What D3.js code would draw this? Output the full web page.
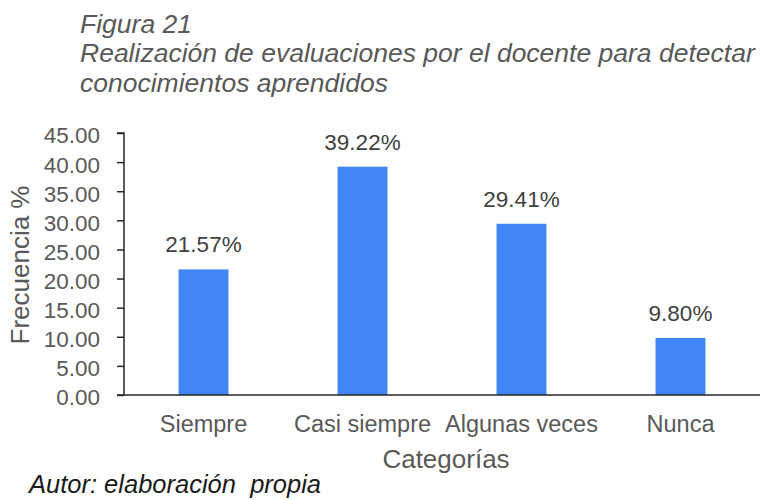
<!DOCTYPE html>
<html>
<head>
<meta charset="utf-8">
<script src="https://cdn.jsdelivr.net/npm/d3@7"></script>
<style>
  html, body { margin: 0; padding: 0; background: #ffffff; }
  svg { display: block; }
  text { font-family: "Liberation Sans", Arial, sans-serif; white-space: pre; }
</style>
</head>
<body>
<svg id="chart" width="765" height="500"></svg>
<script>
const categories = ["Siempre", "Casi siempre", "Algunas veces", "Nunca"];
const values = [21.57, 39.22, 29.41, 9.80];
const yTicks = [0, 5, 10, 15, 20, 25, 30, 35, 40, 45];
const titleLines = ["Figura 21", "Realización de evaluaciones por el docente para detectar", "conocimientos aprendidos"];
const xTitle = "Categorías";
const yTitle = "Frecuencia %";
const footer = "Autor: elaboración  propia";

const svg = d3.select("#chart");
const plot = { left: 124, right: 760, top: 133, bottom: 395 };

const x = d3.scaleBand().domain(categories).range([plot.left, plot.right])
  .paddingInner(0.686).paddingOuter(0.343);
const y = d3.scaleLinear().domain([0, 45]).range([plot.bottom, plot.top]);

const textGray = "#595959";

// Title
svg.append("g").selectAll("text").data(titleLines).join("text")
  .attr("x", 80)
  .attr("y", (d, i) => 33 + i * 29.3)
  .attr("font-size", 26.5)
  .attr("font-style", "italic")
  .attr("fill", textGray)
  .text(d => d);

// Bars
svg.append("g").selectAll("rect").data(values).join("rect")
  .attr("x", (d, i) => x(categories[i]))
  .attr("width", x.bandwidth())
  .attr("y", d => y(d))
  .attr("height", d => y(0) - y(d))
  .attr("fill", "#4285F4");

// Data labels
svg.append("g").selectAll("text").data(values).join("text")
  .attr("x", (d, i) => x(categories[i]) + x.bandwidth() / 2)
  .attr("y", d => y(d) - 17)
  .attr("text-anchor", "middle")
  .attr("font-size", 22.5)
  .attr("fill", "#404040")
  .text(d => d.toFixed(2) + "%");

// Y axis
const yAxis = d3.axisLeft(y).tickValues(yTicks).tickFormat(d3.format(".2f")).tickSize(7).tickPadding(17);
const gy = svg.append("g").attr("transform", `translate(${plot.left},0)`).call(yAxis);
gy.select(".domain").attr("stroke", "#262626").attr("stroke-width", 1.5)
  .attr("d", `M-7,${plot.top}H0V${plot.bottom}`);
gy.selectAll(".tick line").attr("stroke", "#262626").attr("stroke-width", 1.5);
gy.selectAll(".tick text")
  .attr("font-family", "'Liberation Sans', Arial, sans-serif")
  .attr("font-size", 22.5)
  .attr("fill", textGray)
  .attr("dy", "0.44em");

// X axis
const xAxis = d3.axisBottom(x).tickSize(0).tickPadding(0);
const gx = svg.append("g").attr("transform", `translate(0,${plot.bottom})`).call(xAxis);
gx.select(".domain").attr("stroke", "#262626").attr("stroke-width", 1.5)
  .attr("d", `M${plot.left - 7},0H${plot.right}`);
gx.selectAll(".tick text")
  .attr("font-family", "'Liberation Sans', Arial, sans-serif")
  .attr("font-size", 23.5)
  .attr("fill", textGray)
  .attr("dy", 0)
  .attr("y", 37);

// Axis titles
svg.append("text")
  .attr("x", (plot.left + plot.right) / 2 + 4)
  .attr("y", 468)
  .attr("text-anchor", "middle")
  .attr("font-size", 26)
  .attr("fill", textGray)
  .text(xTitle);

svg.append("text")
  .attr("transform", `translate(29,${(185 + 345) / 2}) rotate(-90)`)
  .attr("text-anchor", "middle")
  .attr("font-size", 26)
  .attr("fill", textGray)
  .text(yTitle);

// Footer
svg.append("text")
  .attr("x", 29)
  .attr("y", 493)
  .attr("font-size", 25.5)
  .attr("font-style", "italic")
  .attr("fill", "#1a1a1a")
  .attr("xml:space", "preserve")
  .text(footer);
</script>
</body>
</html>
